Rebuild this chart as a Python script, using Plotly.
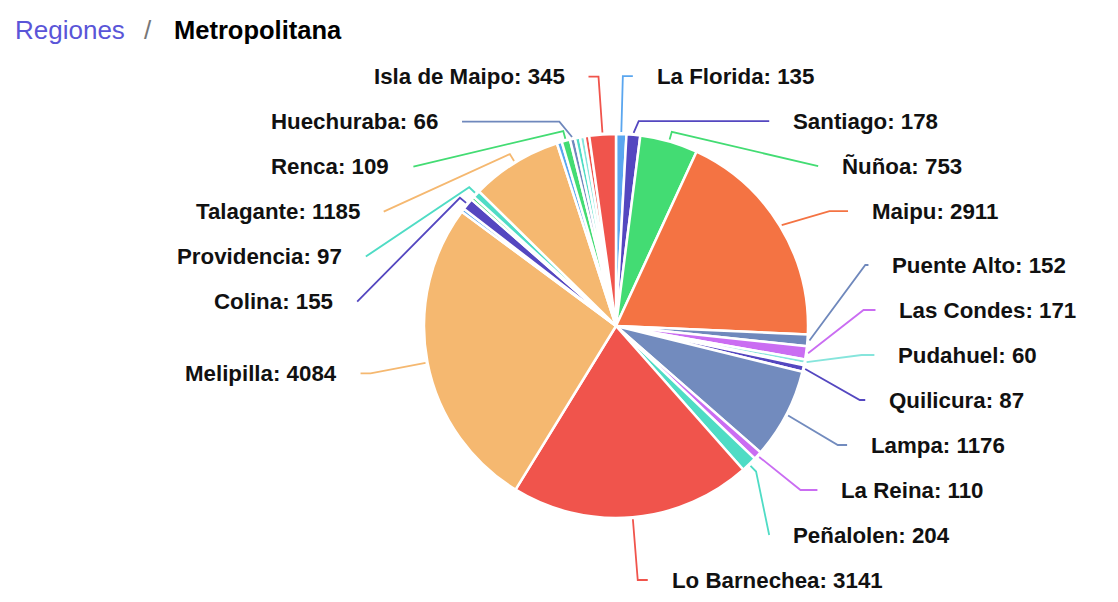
import numpy as np
import plotly.graph_objects as go

# datos por comuna, en el orden del gráfico (sentido horario desde las 12)
comunas = ["La Florida", "Santiago", "Ñuñoa", "Maipu", "Puente Alto", "Las Condes",
           "Pudahuel", "Otra 1", "Quilicura", "Lampa", "La Reina", "Peñalolen",
           "Lo Barnechea", "Melipilla", "Otra 2", "Colina", "Otra 3", "Providencia",
           "Talagante", "Otra 4", "Renca", "Huechuraba", "Otra 5", "Otra 6", "Otra 7",
           "Isla de Maipo"]
valores = [135, 178, 753, 2911, 152, 171,
           60, 15, 87, 1176, 110, 204,
           3141, 4084, 45, 155, 45, 97,
           1185, 65, 109, 66, 65, 60, 60,
           345]
# las comunas chicas no tienen etiqueta en el original
con_etiqueta = [not c.startswith("Otra") for c in comunas]
colores = ["#5aa6ef", "#5447c0", "#43dc73", "#f47343", "#6f88bc", "#ca6df2",
           "#86e5dc", "#f5b870", "#5447c0", "#728bbe", "#ca6df2", "#4fdcc5",
           "#f0544c", "#f5b870", "#5aa6ef", "#5447c0", "#43dc73", "#4fdcc5",
           "#f5b870", "#5aa6ef", "#43dc73", "#6f88bc", "#4fdcc5", "#86e5dc", "#f0544c",
           "#f0544c"]

W, H = 1118, 602
CX, CY, R = 616, 326, 192
LEN1, LEN2 = 58, 10
FILA = 45
Y_MIN, Y_MAX = 24, 580
FUENTE = "Liberation Sans, Arial, sans-serif"

total = sum(valores)
acum = np.cumsum([0] + valores[:-1])
medio = np.radians(360 * (acum + np.array(valores) / 2) / total)

# posiciones de etiquetas (tipo echarts: circulo + desplazamiento vertical)
etiquetas = []
for i, c in enumerate(comunas):
    if not con_etiqueta[i]:
        continue
    t = medio[i]
    lado = 1 if np.sin(t) >= 0 else -1
    etiquetas.append(dict(i=i, t=t, lado=lado,
                          y=CY - (R + LEN1) * np.cos(t),
                          x0=CX + (R + LEN1) * np.sin(t)))

for lado in (1, -1):
    grupo = sorted([e for e in etiquetas if e["lado"] == lado], key=lambda e: e["y"])
    grupo[0]["y"] = max(grupo[0]["y"], Y_MIN)
    for k in range(1, len(grupo)):
        grupo[k]["y"] = max(grupo[k]["y"], grupo[k - 1]["y"] + FILA)
    if grupo[-1]["y"] > Y_MAX:
        grupo[-1]["y"] = Y_MAX
        for k in range(len(grupo) - 2, -1, -1):
            grupo[k]["y"] = min(grupo[k]["y"], grupo[k + 1]["y"] - FILA)
    for arriba in (True, False):
        items = [e for e in grupo if (e["y"] < CY) == arriba]
        if not items:
            continue
        ext = max(items, key=lambda e: abs(e["y"] - CY))
        dy = abs(ext["y"] - CY)
        dx0 = abs(ext["x0"] - CX)
        rA = R + LEN1
        rB = dy / np.sqrt(1 - dx0 ** 2 / rA ** 2) if dx0 < rA else rA
        for e in items:
            dy = abs(e["y"] - CY)
            dx = np.sqrt(max(0, 1 - dy ** 2 / rB ** 2)) * rA
            e["xa"] = CX + (dx + LEN2) * lado

fig = go.Figure()

fig.add_trace(go.Pie(
    labels=comunas, values=valores, sort=False, direction="clockwise", rotation=0,
    marker=dict(colors=colores, line=dict(color="white", width=2.5)),
    textinfo="none", hoverinfo="label+value", showlegend=False,
    domain=dict(x=[(CX - R) / W, (CX + R) / W], y=[1 - (CY + R) / H, 1 - (CY - R) / H]),
))

for e in etiquetas:
    t, lado = e["t"], e["lado"]
    p1 = (CX + (R + 2) * np.sin(t), CY - (R + 2) * np.cos(t))
    p2 = (e["x0"], e["y"])
    if np.hypot(p2[0] - CX, p2[1] - CY) < R + 10 or (p2[0] - e["xa"]) * lado > 0:
        p2 = (CX + (R + 10) * np.sin(t), CY - (R + 10) * np.cos(t))
    p3 = (e["xa"], e["y"])
    fig.add_trace(go.Scatter(
        x=[p1[0], p2[0], p3[0]], y=[p1[1], p2[1], p3[1]], mode="lines",
        line=dict(color=colores[e["i"]], width=1.8), hoverinfo="skip", showlegend=False,
    ))
    fig.add_annotation(
        x=e["xa"] + 22 * lado, y=e["y"], xref="x", yref="y",
        text="<b>%s: %d</b>" % (comunas[e["i"]], valores[e["i"]]),
        showarrow=False, xanchor="left" if lado > 0 else "right", yanchor="middle",
        font=dict(family=FUENTE, size=22.3, color="#111111"),
    )

# migas de pan
fig.add_annotation(x=13, y=30, xref="x", yref="y", text="Regiones", showarrow=False,
                   xanchor="left", yanchor="middle",
                   font=dict(family=FUENTE, size=26, color="#5a55d8"))
fig.add_annotation(x=142, y=30, xref="x", yref="y", text="/", showarrow=False,
                   xanchor="left", yanchor="middle",
                   font=dict(family=FUENTE, size=26, color="#777777"))
fig.add_annotation(x=172, y=30, xref="x", yref="y", text="<b>Metropolitana</b>", showarrow=False,
                   xanchor="left", yanchor="middle",
                   font=dict(family=FUENTE, size=25.5, color="#000000"))

fig.update_layout(
    width=W, height=H,
    margin=dict(l=0, r=0, t=0, b=0),
    paper_bgcolor="white", plot_bgcolor="white",
    xaxis=dict(range=[0, W], visible=False, fixedrange=True),
    yaxis=dict(range=[H, 0], visible=False, fixedrange=True),
)

fig.write_html("out.html", config={"displayModeBar": False},
               post_script="document.body.style.margin='0';document.body.style.overflow='hidden';")
